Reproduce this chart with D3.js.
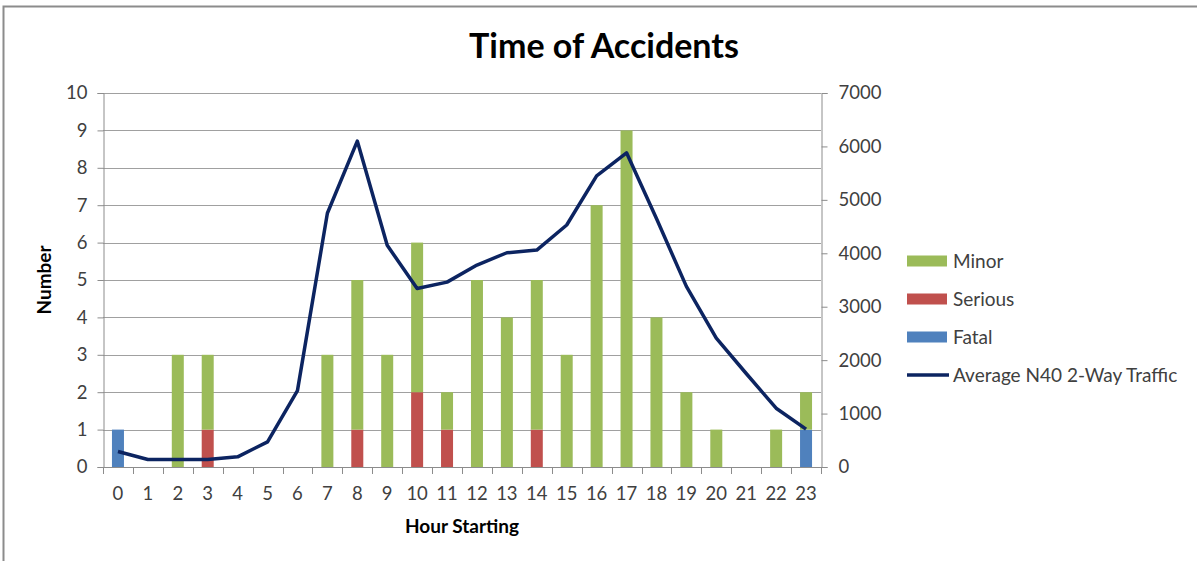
<!DOCTYPE html>
<html>
<head>
<meta charset="utf-8">
<script src="https://cdn.jsdelivr.net/npm/d3@7"></script>
<style>
  body { margin: 0; background: #fff; }
  svg { display: block; font-family: Lato, "Open Sans", sans-serif; }
</style>
</head>
<body>
<svg id="chart" width="1197" height="561"></svg>
<script>
// Data
const hours = d3.range(0, 24).map(String);
const minor   = [0, 0, 3, 2, 0, 0, 0, 3, 4, 3, 4, 1, 5, 4, 4, 3, 7, 9, 4, 2, 1, 0, 1, 1];
const serious = [0, 0, 0, 1, 0, 0, 0, 0, 1, 0, 2, 1, 0, 0, 1, 0, 0, 0, 0, 0, 0, 0, 0, 0];
const fatal   = [1, 0, 0, 0, 0, 0, 0, 0, 0, 0, 0, 0, 0, 0, 0, 0, 0, 0, 0, 0, 0, 0, 0, 1];
const traffic = [290, 140, 140, 140, 190, 470, 1430, 4750, 6100, 4150, 3340, 3460,
                 3780, 4010, 4060, 4530, 5450, 5880, 4650, 3380, 2410, 1750, 1100, 710];
const leftTicks = d3.range(0, 11);
const rightTicks = d3.range(0, 8000, 1000);

const seriesNames = ["Fatal", "Serious", "Minor"];   // stacking order, bottom first
const colors = { Minor: "#9BBB59", Serious: "#C0504D", Fatal: "#4F81BD" };
const lineColor = "#0C2461";

const plotLeft = 103, plotRight = 821, plotTop = 93, plotBottom = 467;

const svg = d3.select("#chart");

// outer chart border (cropped on the right and bottom)
svg.append("path")
    .attr("d", "M3.5,561 L3.5,6.5 L1197,6.5")
    .attr("fill", "none")
    .attr("stroke", "#8c8c8c")
    .attr("stroke-width", 2);

let x = d3.scaleBand().domain(hours).range([plotLeft, plotRight]);
let y = d3.scaleLinear().domain([0, 10]).range([plotBottom, plotTop]);
let y2 = d3.scaleLinear().domain([0, 7000]).range([plotBottom, plotTop]);

// horizontal gridlines
svg.append("g").selectAll("line")
    .data(leftTicks.filter(d => d > 0))
    .enter().append("line")
    .attr("x1", plotLeft).attr("x2", plotRight)
    .attr("y1", d => Math.round(y(d)) + 0.5).attr("y2", d => Math.round(y(d)) + 0.5)
    .attr("stroke", "#a0a0a0").attr("stroke-width", 1);

// stacked bars
let table = hours.map((h, i) => ({ hour: h, Minor: minor[i], Serious: serious[i], Fatal: fatal[i] }));
let stacked = d3.stack().keys(seriesNames)(table);
let barW = 12;

svg.append("g").selectAll("g")
    .data(stacked)
    .enter().append("g")
    .attr("fill", d => colors[d.key])
    .selectAll("rect")
    .data(d => d)
    .enter().append("rect")
    .attr("x", d => x(d.data.hour) + x.bandwidth() / 2 - barW / 2)
    .attr("width", barW)
    .attr("y", d => y(d[1]))
    .attr("height", d => y(d[0]) - y(d[1]));

let axisColor = "#8c8c8c";
let labelColor = "#404040";

let leftAxis = svg.append("g")
    .attr("transform", `translate(${plotLeft + 0.5},0)`)
    .call(d3.axisLeft(y).tickValues(leftTicks).tickSize(6).tickPadding(10));

let rightAxis = svg.append("g")
    .attr("transform", `translate(${plotRight + 0.5},0)`)
    .call(d3.axisRight(y2).tickValues(rightTicks).tickSize(6).tickPadding(11).tickFormat(d3.format("d")));

let xAxis = svg.append("g")
    .attr("transform", `translate(0,${plotBottom + 0.5})`)
    .call(d3.axisBottom(x).tickSize(0).tickPadding(19));

// x axis tick marks sit on the category boundaries
svg.append("g").selectAll("line")
    .data(d3.range(0, 25))
    .enter().append("line")
    .attr("x1", i => Math.round(plotLeft + i * x.step()) + 0.5)
    .attr("x2", i => Math.round(plotLeft + i * x.step()) + 0.5)
    .attr("y1", plotBottom).attr("y2", plotBottom + 7)
    .attr("stroke", axisColor);

[leftAxis, rightAxis, xAxis].forEach(a => {
    a.select(".domain").attr("stroke", axisColor);
    a.selectAll(".tick line").attr("stroke", axisColor);
    a.selectAll(".tick text")
        .attr("fill", labelColor)
        .style("font-size", "18.5px")
        .style("font-family", "Lato, sans-serif");
});
xAxis.select(".domain").attr("d", `M${plotLeft},0H${plotRight}`);

// traffic line on the secondary axis
let lineFunction = d3.line()
    .x((d, i) => x(hours[i]) + x.bandwidth() / 2)
    .y(d => y2(d));

svg.append("path")
    .attr("d", lineFunction(traffic))
    .attr("fill", "none")
    .attr("stroke", lineColor)
    .attr("stroke-width", 3.5)
    .attr("stroke-linejoin", "round");

// titles
svg.append("text")
    .attr("x", 604).attr("y", 58)
    .attr("text-anchor", "middle")
    .style("font-size", "34px").style("font-weight", "bold")
    .attr("fill", "#000")
    .text("Time of Accidents");

svg.append("text")
    .attr("x", (plotLeft + plotRight) / 2).attr("y", 533)
    .attr("text-anchor", "middle")
    .style("font-size", "19px").style("font-weight", "bold")
    .attr("fill", "#000")
    .text("Hour Starting");

svg.append("text")
    .attr("transform", `translate(51,${(plotTop + plotBottom) / 2}) rotate(-90)`)
    .attr("text-anchor", "middle")
    .style("font-size", "19px").style("font-weight", "bold")
    .attr("fill", "#000")
    .text("Number");

// legend
let legendItems = ["Minor", "Serious", "Fatal", "Average N40 2-Way Traffic"];
let legend = svg.append("g").attr("transform", "translate(907,261)");
let rows = legend.selectAll("g")
    .data(legendItems)
    .enter().append("g")
    .attr("transform", (d, i) => `translate(0,${i * 38})`);

rows.filter(d => colors[d])
    .append("rect")
    .attr("x", 0).attr("y", -5.5)
    .attr("width", 40).attr("height", 11)
    .attr("fill", d => colors[d]);

rows.filter(d => !colors[d])
    .append("line")
    .attr("x1", 0).attr("x2", 42)
    .attr("y1", 0).attr("y2", 0)
    .attr("stroke", lineColor).attr("stroke-width", 3.5);

rows.append("text")
    .attr("x", 46).attr("y", 7)
    .style("font-size", "19px")
    .attr("fill", labelColor)
    .text(d => d);
</script>
</body>
</html>
